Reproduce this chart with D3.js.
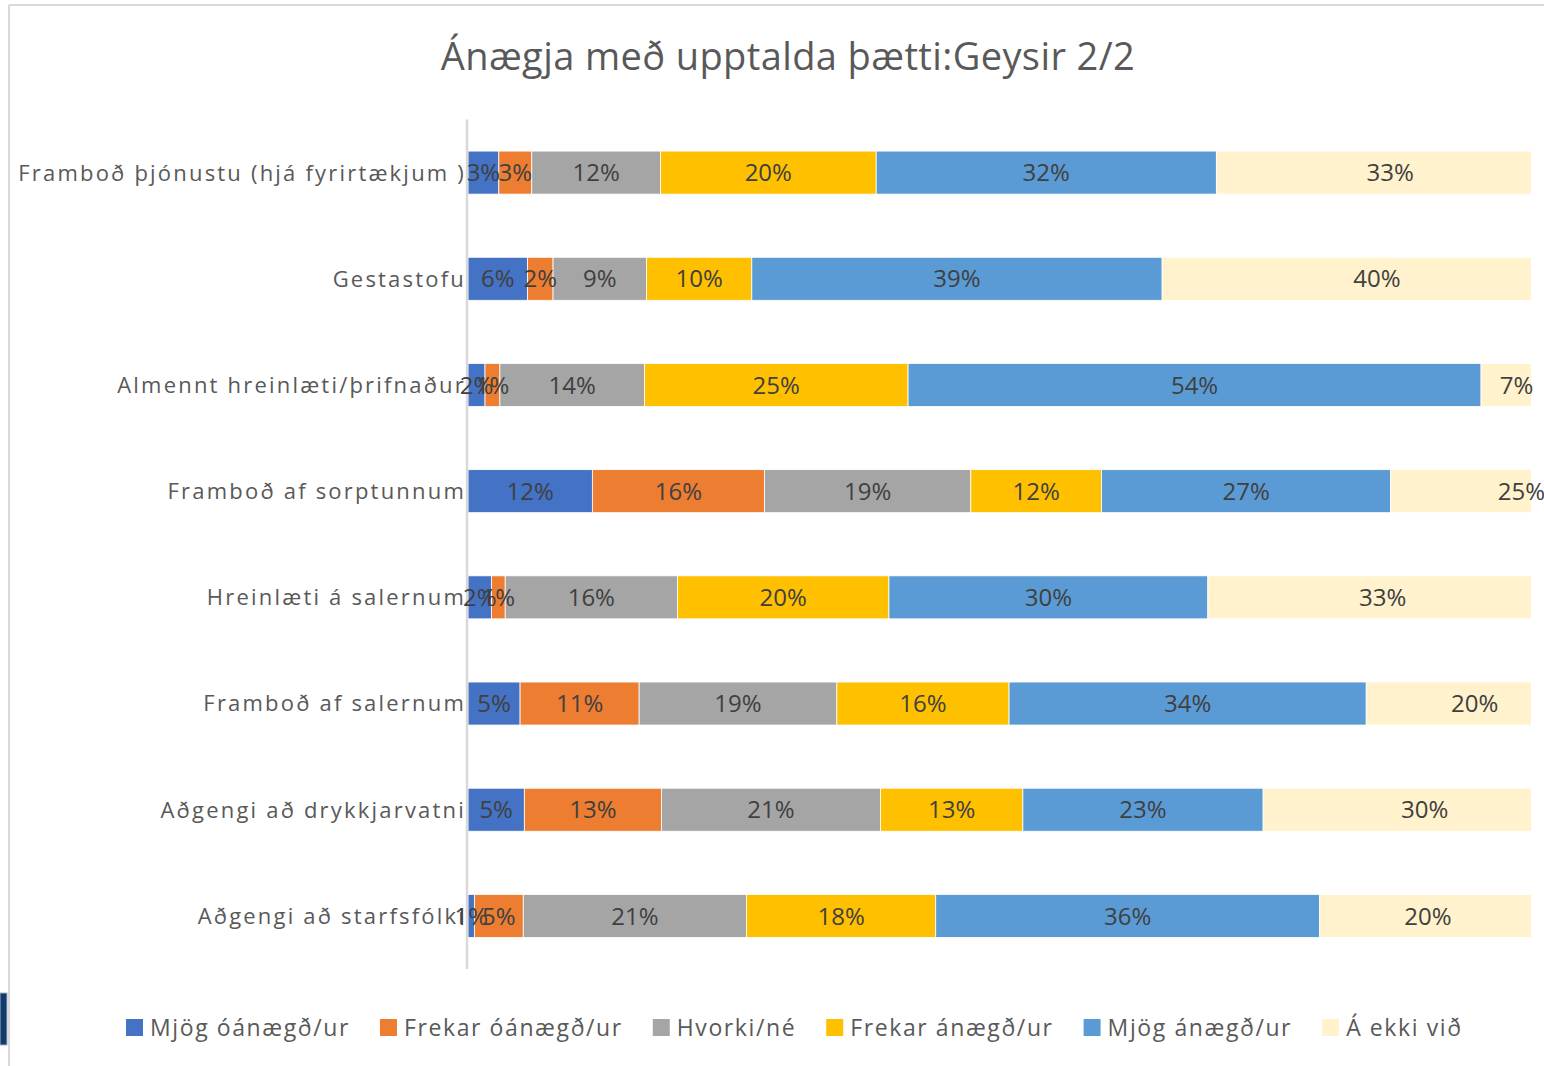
<!DOCTYPE html>
<html>
<head>
<meta charset="utf-8">
<script src="https://cdn.jsdelivr.net/npm/d3@7"></script>
<style>
  html, body { margin: 0; padding: 0; background: #fff; }
  svg { display: block; }
</style>
</head>
<body>
<svg id="chart" width="1544" height="1066"></svg>
<script>
const title = "Ánægja með upptalda þætti:Geysir 2/2";
const categories = [
  "Framboð þjónustu (hjá fyrirtækjum )",
  "Gestastofu",
  "Almennt hreinlæti/þrifnaður",
  "Framboð af sorptunnum",
  "Hreinlæti á salernum",
  "Framboð af salernum",
  "Aðgengi að drykkjarvatni",
  "Aðgengi að starfsfólki"
];
const seriesNames = ["Mjög óánægð/ur", "Frekar óánægð/ur", "Hvorki/né", "Frekar ánægð/ur", "Mjög ánægð/ur", "Á ekki við"];
const mjogOanaegd   = [2.9, 5.6, 1.6, 11.7, 2.2, 4.9, 5.3, 0.6];
const frekarOanaegd = [3.1, 2.4, 1.4, 16.2, 1.3, 11.2, 12.9, 4.6];
const hvorkiNe      = [12.1, 8.8, 13.6, 19.4, 16.2, 18.6, 20.6, 21.0];
const frekarAnaegd  = [20.3, 9.9, 24.8, 12.3, 19.9, 16.2, 13.4, 17.8];
const mjogAnaegd    = [32.0, 38.6, 53.9, 27.2, 30.0, 33.6, 22.6, 36.1];
const aEkkiVid      = [32.7, 40.4, 6.7, 24.6, 32.9, 20.4, 30.4, 20.4];
const xTicks = [0, 100];

const seriesValues = [mjogOanaegd, frekarOanaegd, hvorkiNe, frekarAnaegd, mjogAnaegd, aEkkiVid];
const colors = ["#4472C4", "#ED7D31", "#A5A5A5", "#FFC000", "#5B9BD5", "#FFF2CC"];

const svg = d3.select("#chart");

// frame decorations
svg.append("rect").attr("x", 0).attr("y", 993).attr("width", 7).attr("height", 52)
  .attr("fill", "#123a6a").attr("stroke", "#9fb3c8").attr("stroke-width", 1);
svg.append("line").attr("x1", 9).attr("x2", 1544).attr("y1", 5).attr("y2", 5)
  .attr("stroke", "#d9d9d9").attr("stroke-width", 2);
svg.append("line").attr("x1", 9).attr("x2", 9).attr("y1", 5).attr("y2", 1066)
  .attr("stroke", "#d9d9d9").attr("stroke-width", 2);

// title
svg.append("text").attr("x", 788).attr("y", 70)
  .attr("text-anchor", "middle")
  .attr("font-family", "'Open Sans', sans-serif")
  .attr("font-size", 38).attr("letter-spacing", 0.4).attr("fill", "#595959")
  .text(title);

const x = d3.scaleLinear().domain([xTicks[0], xTicks[1]]).range([468, 1531]);
const y = d3.scaleBand().domain(categories).range([119.5, 969])
  .paddingInner(0.595).paddingOuter(0.2975);

// build stacked rows
const rows = categories.map((c, i) => {
  let acc = 0;
  return seriesValues.map((arr, s) => {
    const v = arr[i];
    const seg = { cat: c, s, v, x0: acc, x1: acc + v };
    acc += v;
    return seg;
  });
});
const segs = rows.flat();

svg.append("clipPath").attr("id", "plotclip").append("rect")
  .attr("x", x(0)).attr("y", 100).attr("width", x(100) - x(0)).attr("height", 900);

svg.append("g").attr("clip-path", "url(#plotclip)")
  .selectAll("rect").data(segs).join("rect")
  .attr("x", d => x(d.x0))
  .attr("width", d => x(d.x1) - x(d.x0))
  .attr("y", d => y(d.cat))
  .attr("height", y.bandwidth())
  .attr("fill", d => colors[d.s])
  .attr("stroke", "#ffffff").attr("stroke-width", 0.8);

// category axis line
const yAxis = d3.axisLeft(y).tickSize(0).tickFormat("");
const yg = svg.append("g").attr("transform", `translate(${x(0) - 1},0)`).call(yAxis);
yg.select(".domain").attr("stroke", "#d9d9d9").attr("stroke-width", 2.5)
  .attr("d", `M0,119.5V969`);

// category labels
svg.append("g").selectAll("text").data(categories).join("text")
  .attr("x", 466)
  .attr("y", d => y(d) + y.bandwidth() / 2)
  .attr("dy", "0.36em")
  .attr("text-anchor", "end")
  .attr("font-family", "'Open Sans', sans-serif")
  .attr("font-size", 22)
  .attr("letter-spacing", 2.2)
  .attr("fill", "#595959")
  .text(d => d);

// data labels
svg.append("g").selectAll("text").data(segs).join("text")
  .attr("x", d => x((d.x0 + d.x1) / 2))
  .attr("y", d => y(d.cat) + y.bandwidth() / 2)
  .attr("dy", "0.36em")
  .attr("text-anchor", "middle")
  .attr("font-family", "'Open Sans', sans-serif")
  .attr("font-size", 24)
  .attr("fill", "#404040")
  .text(d => Math.round(d.v) + "%");

// legend
const leg = svg.append("g");
let lx = 126;
seriesNames.forEach((name, i) => {
  leg.append("rect").attr("x", lx).attr("y", 1019).attr("width", 17).attr("height", 17)
    .attr("fill", colors[i]);
  const t = leg.append("text").attr("x", lx + 24).attr("y", 1027.5).attr("dy", "0.36em")
    .attr("font-family", "'Open Sans', sans-serif").attr("font-size", 23)
    .attr("letter-spacing", 1.6).attr("fill", "#595959").text(name);
  lx += 24 + t.node().getComputedTextLength() + 30;
});
</script>
</body>
</html>
